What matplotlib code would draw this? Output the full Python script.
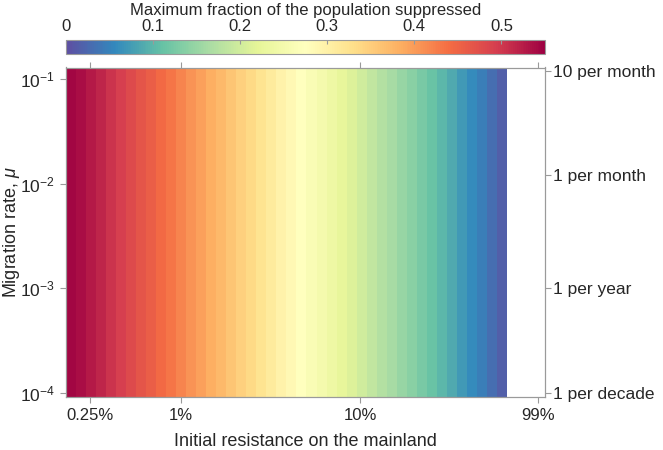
import numpy as np
import matplotlib
matplotlib.use("Agg")
import matplotlib.pyplot as plt
from matplotlib.ticker import FixedLocator, NullLocator, FixedFormatter

plt.rcParams['font.family'] = ['Liberation Sans', 'DejaVu Sans']
plt.rcParams['mathtext.fontset'] = 'custom'
plt.rcParams['mathtext.rm'] = 'Liberation Sans'
plt.rcParams['mathtext.it'] = 'Liberation Sans:italic'
plt.rcParams['mathtext.bf'] = 'Liberation Sans:bold'

# ---- data ----
# maximum fraction suppressed, one value per resistance band (left -> right)
frac_suppressed = [0.545, 0.538, 0.528, 0.516, 0.504, 0.492, 0.480, 0.468,
                   0.456, 0.444, 0.432, 0.420, 0.408, 0.396, 0.384, 0.372,
                   0.360, 0.348, 0.336, 0.323, 0.311, 0.298, 0.286, 0.274,
                   0.262, 0.250, 0.237, 0.224, 0.211, 0.199, 0.186, 0.174,
                   0.162, 0.150, 0.138, 0.125, 0.112, 0.099, 0.086, 0.073,
                   0.060, 0.046, 0.032, 0.016]
# band edges for initial resistance (fraction), log-spaced
resistance_lo = 0.00228
resistance_hi = 0.662
mu_edges = [9.1e-5, 1e-4, 1e-3, 1e-2, 1e-1, 0.129]

x_ticks = [0.0031, 0.01, 0.1, 0.99]
x_ticklabels = ['0.25%', '1%', '10%', '99%']
y_ticks = [1e-4, 1e-3, 1e-2, 1e-1]
y_ticklabels = [r'$10^{-4}$', r'$10^{-3}$', r'$10^{-2}$', r'$10^{-1}$']
right_ticks = [1e-4, 1e-3, 1.2e-2, 1.2e-1]
right_ticklabels = ['1 per decade', '1 per year', '1 per month', '10 per month']
cbar_ticks = [0, 0.1, 0.2, 0.3, 0.4, 0.5]
vmin, vmax = 0.0, 0.55

# ---- figure ----
text_c = '#262626'
edge_c = '#9a9a9a'
fig = plt.figure(figsize=(6.63, 4.5), dpi=100)
ax = fig.add_axes([0.0995, 0.118, 0.7225, 0.732])

n = len(frac_suppressed)
x_edges = np.logspace(np.log10(resistance_lo), np.log10(resistance_hi), n + 1)
Z = np.tile(np.array(frac_suppressed), (len(mu_edges) - 1, 1))
mesh = ax.pcolormesh(x_edges, mu_edges, Z, cmap='Spectral_r', vmin=vmin, vmax=vmax,
                     shading='flat', edgecolors='face', linewidth=0.0)

ax.set_xscale('log')
ax.set_yscale('log')
ax.set_xlim(0.00228, 1.08)
ax.set_ylim(9.1e-5, 0.129)

ax.xaxis.set_major_locator(FixedLocator(x_ticks))
ax.xaxis.set_major_formatter(FixedFormatter(x_ticklabels))
ax.xaxis.set_minor_locator(NullLocator())
ax.yaxis.set_major_locator(FixedLocator(y_ticks))
ax.yaxis.set_major_formatter(FixedFormatter(y_ticklabels))
ax.yaxis.set_minor_locator(NullLocator())

ax.tick_params(axis='x', which='major', direction='out', length=4, width=0.8,
               color=edge_c, labelcolor=text_c, labelsize=12, top=True, pad=4)
ax.tick_params(axis='y', which='major', direction='out', length=4, width=0.8,
               color=edge_c, labelcolor=text_c, labelsize=12.5, pad=4)
for s in ax.spines.values():
    s.set_color(edge_c)
    s.set_linewidth(0.8)

ax.set_xlabel('Initial resistance on the mainland', fontsize=13, color=text_c, labelpad=7)
ax.set_ylabel(r'Migration rate, $\mu$', fontsize=13, color=text_c)
ax.yaxis.set_label_coords(-0.092, 0.5)

ax2 = ax.twinx()
ax2.set_yscale('log')
ax2.set_ylim(ax.get_ylim())
ax2.yaxis.set_major_locator(FixedLocator(right_ticks))
ax2.yaxis.set_major_formatter(FixedFormatter(right_ticklabels))
ax2.yaxis.set_minor_locator(NullLocator())
ax2.tick_params(axis='y', direction='out', length=4, width=0.8, color=edge_c,
                labelcolor=text_c, labelsize=12.5, pad=2)
for s in ax2.spines.values():
    s.set_color(edge_c)
    s.set_linewidth(0.8)

cax = fig.add_axes([0.0995, 0.880, 0.7225, 0.031])
cb = fig.colorbar(mesh, cax=cax, orientation='horizontal', ticks=cbar_ticks)
cb.outline.set_edgecolor(edge_c)
cb.outline.set_linewidth(0.8)
cax.xaxis.set_ticks_position('top')
cax.xaxis.set_label_position('top')
cax.tick_params(axis='x', direction='in', length=3, width=0.8, color=edge_c,
                labelcolor=text_c, labelsize=12, pad=4)
cax.xaxis.set_minor_locator(NullLocator())
cax.set_xticklabels(['0', '0.1', '0.2', '0.3', '0.4', '0.5'])
cax.set_xlabel('Maximum fraction of the population suppressed', fontsize=12,
               color=text_c, labelpad=3)

fig.savefig('out.png', dpi=100)
